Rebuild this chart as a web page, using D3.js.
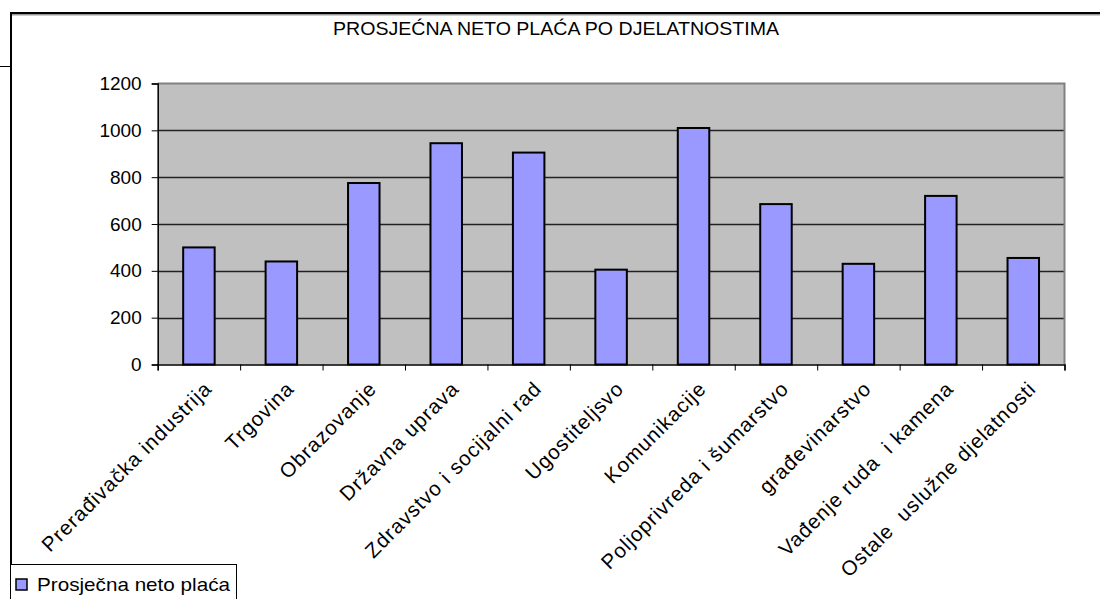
<!DOCTYPE html>
<html><head><meta charset="utf-8">
<script src="https://cdn.jsdelivr.net/npm/d3@7"></script>
<style>
html,body{margin:0;padding:0;background:#fff;}
text{font-family:"Liberation Sans",Arial,sans-serif;fill:#000;}
</style></head>
<body>
<svg id="c" width="1100" height="599"></svg>
<script>
const title = "PROSJEĆNA NETO PLAĆA PO DJELATNOSTIMA";
const categories = ["Prerađivačka industrija","Trgovina","Obrazovanje","Državna uprava","Zdravstvo i socijalni rad","Ugostiteljsvo","Komunikacije","Poljoprivreda i šumarstvo","građevinarstvo","Vađenje ruda  i kamena","Ostale  uslužne djelatnosti"];
const values = [500, 440, 775, 945, 905, 405, 1010, 685, 430, 720, 455];
const yTicks = [0, 200, 400, 600, 800, 1000, 1200];
const seriesName = "Prosječna neto plaća";

const svg = d3.select("#c");
const L = 157.7, R = 1064.5, T = 83.5, B = 364.5;

// outer chart frame
svg.append("line").attr("x1",10).attr("x2",1100).attr("y1",14.5).attr("y2",14.5).attr("stroke","#999").attr("stroke-width",2);
svg.append("line").attr("x1",10).attr("x2",1100).attr("y1",13).attr("y2",13).attr("stroke","#000").attr("stroke-width",2);
svg.append("line").attr("x1",11).attr("x2",11).attr("y1",12).attr("y2",599).attr("stroke","#000").attr("stroke-width",2);
svg.append("line").attr("x1",0).attr("x2",10).attr("y1",66.5).attr("y2",66.5).attr("stroke","#000").attr("stroke-width",1);

// title
svg.append("text").attr("x",556).attr("y",35).attr("text-anchor","middle")
  .style("font-size","18px").attr("textLength",446).attr("lengthAdjust","spacingAndGlyphs").text(title);

const y = d3.scaleLinear().domain([0,1200]).range([B,T]);
const p = 0.618;
const x = d3.scaleBand().domain(categories).range([L,R]).paddingInner(p).paddingOuter(p/2);
const xi = d3.scaleLinear().domain([0,categories.length]).range([L,R]);

// plot area
svg.append("rect").attr("x",L).attr("y",T).attr("width",R-L).attr("height",B-T).attr("fill","#C0C0C0");
// gridlines
svg.append("g").selectAll("line").data(yTicks.filter(d=>d>0 && d<1200)).join("line")
  .attr("x1",L).attr("x2",R).attr("y1",d=>Math.round(y(d))+0.5).attr("y2",d=>Math.round(y(d))+0.5)
  .attr("stroke","#222").attr("stroke-width",1.3);
// plot border top/right grey
svg.append("path").attr("d",`M${L},${T} H${R} V${B}`).attr("fill","none").attr("stroke","#808080").attr("stroke-width",2);

// bars
svg.append("g").selectAll("rect").data(values).join("rect")
  .attr("x",(d,i)=>x(categories[i])).attr("width",x.bandwidth())
  .attr("y",d=>y(d)).attr("height",d=>B-y(d))
  .attr("fill","#9999FF").attr("stroke","#000").attr("stroke-width",2);

// y axis
const ya = svg.append("g").attr("transform",`translate(${L},0)`)
  .call(d3.axisLeft(y).tickValues(yTicks).tickSize(6).tickPadding(10).tickFormat(d3.format("d")));
ya.select(".domain").attr("stroke","#000").attr("stroke-width",1.5);
ya.selectAll(".tick line").attr("stroke","#000");
ya.selectAll(".tick text").style("font-size","19px").style("font-family","Liberation Sans, Arial, sans-serif").attr("fill","#000");

// x axis
const xa = svg.append("g").attr("transform",`translate(0,${B})`)
  .call(d3.axisBottom(xi).tickValues(d3.range(categories.length+1)).tickSize(6).tickFormat(""));
xa.select(".domain").attr("stroke","#000").attr("stroke-width",1.5);
xa.selectAll(".tick line").attr("stroke","#000");

// x labels
svg.append("g").selectAll("text").data(categories).join("text")
  .attr("transform",d=>`translate(${x(d)+x.bandwidth()/2+14},390) rotate(-45)`)
  .attr("text-anchor","end").style("font-size","20.5px").style("letter-spacing","1px").style("white-space","pre").text(d=>d);

// legend
svg.append("rect").attr("x",10.5).attr("y",564.5).attr("width",226).attr("height",40).attr("fill","#fff").attr("stroke","#000").attr("stroke-width",1);
svg.append("rect").attr("x",16).attr("y",579).attr("width",11).attr("height",11).attr("fill","#9999FF").attr("stroke","#000").attr("stroke-width",1.5);
svg.append("text").attr("x",37).attr("y",591).style("font-size","19px").attr("textLength",193).attr("lengthAdjust","spacingAndGlyphs").text(seriesName);
</script>
</body></html>
